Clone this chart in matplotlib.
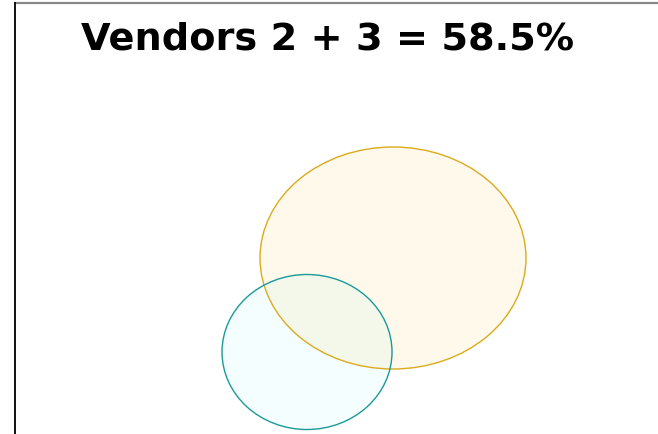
import matplotlib
matplotlib.use("Agg")
import matplotlib.pyplot as plt
from matplotlib.patches import Ellipse

# Data
title = "Vendors 2 + 3 = 58.5%"
sets = ["Vendor 2", "Vendor 3"]
centers_x = [393, 307]
centers_y = [258, 352]
widths = [266, 170]
heights = [222, 155]
edge_colors = ["#DCAA1E", "#1A9A9A"]
face_colors = ["#FFF9EB", "#F5FEFE"]
overlap_color = "#F4F8EB"

W, H = 658, 434
fig = plt.figure(figsize=(W / 100, H / 100), dpi=100)
ax = fig.add_axes([0, 0, 1, 1])
ax.set_xlim(0, W)
ax.set_ylim(H, 0)
ax.axis("off")

patches = []
for cx, cy, w, h, fc in zip(centers_x, centers_y, widths, heights, face_colors):
    p = Ellipse((cx, cy), w, h, facecolor=fc, edgecolor="none")
    ax.add_patch(p)
    patches.append(p)

# overlap region
ov = Ellipse((centers_x[1], centers_y[1]), widths[1], heights[1],
             facecolor=overlap_color, edgecolor="none")
ax.add_patch(ov)
ov.set_clip_path(patches[0])

for cx, cy, w, h, ec in zip(centers_x, centers_y, widths, heights, edge_colors):
    ax.add_patch(Ellipse((cx, cy), w, h, facecolor="none", edgecolor=ec, linewidth=1.0))

# frame lines
ax.plot([14, W], [2.5, 2.5], color="#888888", linewidth=1.6, solid_capstyle="butt")
ax.plot([14.5, 14.5], [2, H], color="#111111", linewidth=1.4, solid_capstyle="butt")

ax.text(328, 40, title, ha="center", va="center", fontsize=27.5,
        fontweight="bold", family="DejaVu Sans", color="black")

fig.savefig("out.png", dpi=100)
